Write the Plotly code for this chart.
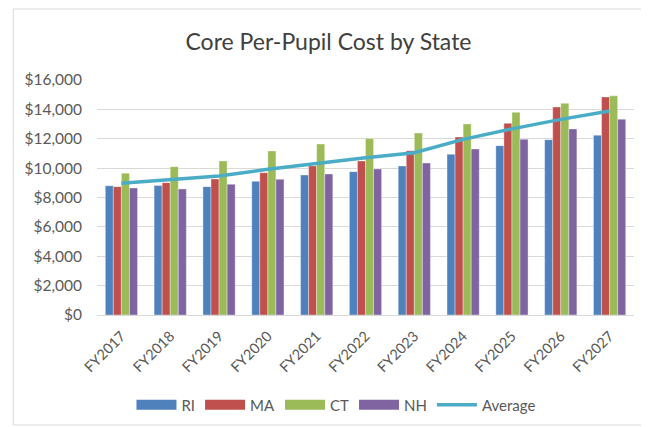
import plotly.graph_objects as go

years = ["FY2017", "FY2018", "FY2019", "FY2020", "FY2021", "FY2022",
         "FY2023", "FY2024", "FY2025", "FY2026", "FY2027"]
ri = [8800, 8810, 8740, 9100, 9530, 9760, 10150, 10940, 11530, 11940, 12240]
ma = [8740, 9010, 9260, 9690, 10150, 10490, 11190, 12120, 13050, 14160, 14850]
ct = [9650, 10100, 10490, 11170, 11640, 12010, 12390, 13010, 13800, 14410, 14920]
nh = [8650, 8580, 8900, 9240, 9600, 9940, 10350, 11300, 11960, 12670, 13330]
average = [8970, 9190, 9460, 9920, 10330, 10700, 11050, 11960, 12670, 13320, 13890]

series_names = ["RI", "MA", "CT", "NH"]
series_vals = [ri, ma, ct, nh]
series_colors = ["#4F81BD", "#C0504D", "#9BBB59", "#8064A2"]

FONT = "Lato, 'Open Sans', sans-serif"

fig = go.Figure()
for name, vals, col in zip(series_names, series_vals, series_colors):
    fig.add_trace(go.Bar(
        x=years, y=vals, name=name, showlegend=False, legendgroup=name,
        marker=dict(color=col, line=dict(color="rgba(255,255,255,0.45)", width=0.8)),
    ))
fig.add_trace(go.Scatter(
    x=years, y=average, name="Average", mode="lines", showlegend=False,
    legendgroup="Average",
    line=dict(color="#4BACC6", width=3.5),
))
# legend entries (wide rectangular swatches like the original)
for name, col in zip(series_names, series_colors):
    fig.add_trace(go.Scatter(x=[None], y=[None], mode="lines", name=name,
                             legendgroup=name, line=dict(color=col, width=10)))
fig.add_trace(go.Scatter(x=[None], y=[None], mode="lines", name="Average",
                         legendgroup="Average", line=dict(color="#4BACC6", width=3.5)))

# page body has an 8px default margin, so the figure is sized to fit the window
W, H = 641, 419
fig.update_layout(
    width=W, height=H,
    margin=dict(l=89, r=15, t=72, b=112, autoexpand=False),
    paper_bgcolor="white", plot_bgcolor="white",
    barmode="group", bargap=0.34, bargroupgap=0,
    title=dict(text="Core Per-Pupil Cost by State", x=0.5, xanchor="center",
               y=1 - 34 / H, yanchor="middle",
               font=dict(family=FONT, size=23, color="#404040")),
    font=dict(family=FONT, size=15, color="#595959"),
    xaxis=dict(tickangle=-45, showgrid=False, showline=True, linecolor="#D9D9D9",
               linewidth=1, ticks="", automargin=False, ticklabelstandoff=6,
               tickfont=dict(size=14.5, color="#595959")),
    yaxis=dict(range=[0, 16000], dtick=2000, tickprefix="$", tickformat=",d",
               showgrid=True, gridcolor="#D9D9D9", gridwidth=1, zeroline=False,
               showline=False, ticks="", ticklabelstandoff=14, automargin=False,
               tickfont=dict(size=15.5, color="#595959")),
    legend=dict(orientation="h", x=0.445, xanchor="center", y=-0.383, yanchor="middle",
                font=dict(size=15, color="#595959"), traceorder="normal",
                itemwidth=40, tracegroupgap=0),
    showlegend=True,
)

fig.add_shape(type="rect", xref="paper", yref="paper",
              x0=-0.156, x1=1.022, y0=-0.468, y1=1.302,
              line=dict(color="#D9D9D9", width=1), fillcolor="rgba(0,0,0,0)", layer="below")

fig.write_html("out.html")
